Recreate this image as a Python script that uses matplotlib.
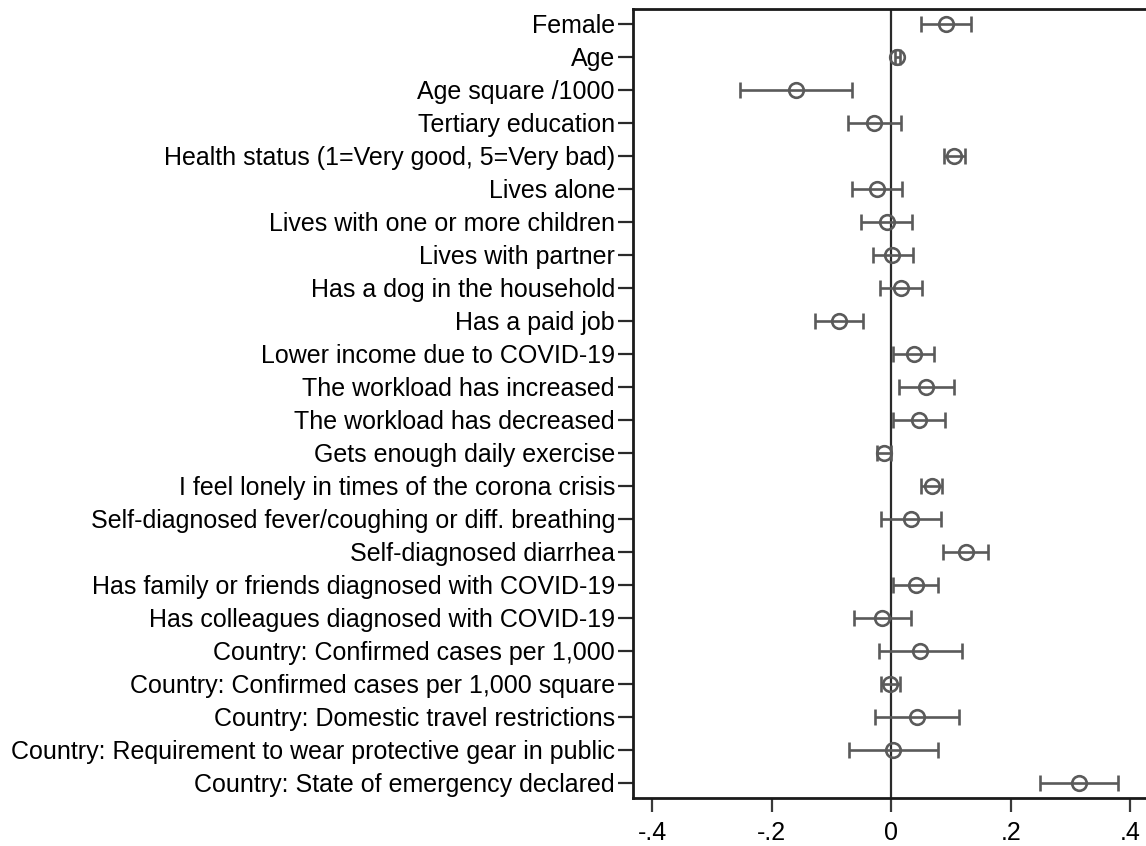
import matplotlib
matplotlib.use("Agg")
import matplotlib.pyplot as plt
import numpy as np

plt.rcParams['font.family'] = ['Liberation Sans', 'DejaVu Sans']

labels = [
    "Female",
    "Age",
    "Age square /1000",
    "Tertiary education",
    "Health status (1=Very good, 5=Very bad)",
    "Lives alone",
    "Lives with one or more children",
    "Lives with partner",
    "Has a dog in the household",
    "Has a paid job",
    "Lower income due to COVID-19",
    "The workload has increased",
    "The workload has decreased",
    "Gets enough daily exercise",
    "I feel lonely in times of the corona crisis",
    "Self-diagnosed fever/coughing or diff. breathing",
    "Self-diagnosed diarrhea",
    "Has family or friends diagnosed with COVID-19",
    "Has colleagues diagnosed with COVID-19",
    "Country: Confirmed cases per 1,000",
    "Country: Confirmed cases per 1,000 square",
    "Country: Domestic travel restrictions",
    "Country: Requirement to wear protective gear in public",
    "Country: State of emergency declared",
]

coef = [0.0915, 0.010, -0.1596, -0.0285, 0.1043, -0.0245, -0.0078, 0.0006,
        0.0162, -0.088, 0.0374, 0.058, 0.0469, -0.0123, 0.0675, 0.0324,
        0.1244, 0.0407, -0.0156, 0.0485, -0.0017, 0.0424, 0.0028, 0.3135]
ci_low = [0.049, 0.006, -0.253, -0.0725, 0.088, -0.0658, -0.0513, -0.0312,
          -0.019, -0.127, 0.0028, 0.0123, 0.0028, -0.0234, 0.0502, -0.0179,
          0.0865, 0.0028, -0.063, -0.0212, -0.0179, -0.0279, -0.0703, 0.2488]
ci_high = [0.1333, 0.014, -0.0653, 0.0162, 0.1227, 0.0184, 0.0346, 0.0357,
           0.0513, -0.048, 0.0714, 0.1043, 0.0898, -0.001, 0.0854, 0.0837,
           0.1612, 0.0781, 0.0324, 0.1188, 0.0145, 0.1138, 0.0775, 0.3794]

xticks = [-0.4, -0.2, 0, 0.2, 0.4]
xticklabels = ["-.4", "-.2", "0", ".2", ".4"]

W, H = 1146, 846
fig = plt.figure(figsize=(W / 100, H / 100), dpi=100)
left_px, right_px, top_px, bottom_px = 633, 1150, 9, 797.5
ax = fig.add_axes([left_px / W, 1 - bottom_px / H,
                   (right_px - left_px) / W, (bottom_px - top_px) / H])

y = np.arange(1, len(labels) + 1)
coef_a = np.array(coef)
err = np.vstack([coef_a - np.array(ci_low), np.array(ci_high) - coef_a])

grey = "#5a5a5a"
ax.axvline(0, color="#2a2a2a", lw=1.6, zorder=1)
ax.errorbar(coef_a, y, xerr=err, fmt="o", color=grey, ecolor=grey,
            elinewidth=1.9, capsize=6, capthick=1.9,
            markersize=10.5, markerfacecolor="none", markeredgecolor=grey,
            markeredgewidth=1.9, zorder=3)

ax.set_xlim(-0.4323, 0.4330)
ax.set_ylim(24.44, 0.56)
ax.set_yticks(y)
ax.set_yticklabels(labels, fontsize=18)
ax.set_xticks(xticks)
ax.set_xticklabels(xticklabels, fontsize=18)

for s in ["left", "bottom", "top"]:
    ax.spines[s].set_linewidth(2.0)
    ax.spines[s].set_color("#1a1a1a")
ax.spines["right"].set_visible(False)

ax.tick_params(axis="y", length=11, width=1.6, color="#2a2a2a", pad=2)
ax.tick_params(axis="x", length=10, width=1.6, color="#3a3a3a", pad=7)

fig.savefig("out.png", dpi=100)
